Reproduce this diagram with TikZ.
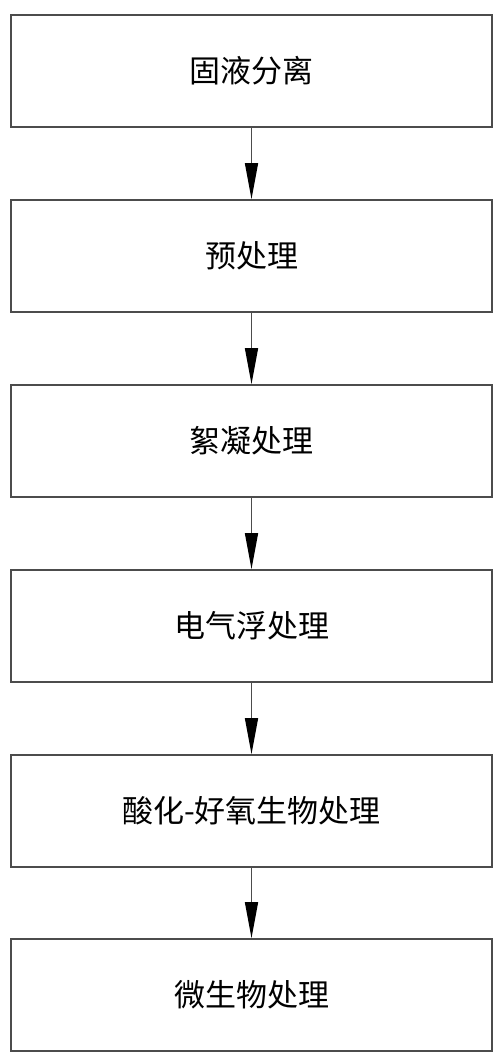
\documentclass[tikz,border=0pt]{standalone}
\usepackage{fontspec}
\setmainfont{Noto Sans CJK SC}
\usetikzlibrary{arrows.meta}
\begin{document}
\begin{tikzpicture}[x=1pt,y=-1pt,
    stepbox/.style={draw=black!70, line width=1.6pt, minimum width=481pt, minimum height=112pt, inner sep=0pt, font=\fontsize{31}{34}\selectfont},
    flow/.style={draw=black!70, line width=1.4pt, -{Triangle[length=36pt,width=13pt,color=black]}}]
    \useasboundingbox (0,0) rectangle (500,1061);

    % 流程框
    \node[stepbox] (gyfl) at (251.5,71) {固液分离};
    \node[stepbox] (ycl) at (251.5,256) {预处理};
    \node[stepbox] (xncl) at (251.5,441) {絮凝处理};
    \node[stepbox] (dqf) at (251.5,626) {电气浮处理};
    \node[stepbox] (shyy) at (251.5,811) {酸化-好氧生物处理};
    \node[stepbox] (wsw) at (251.5,995) {微生物处理};

    % 箭头
    \draw[flow] (gyfl) -- (ycl);
    \draw[flow] (ycl) -- (xncl);
    \draw[flow] (xncl) -- (dqf);
    \draw[flow] (dqf) -- (shyy);
    \draw[flow] (shyy) -- (wsw);
\end{tikzpicture}
\end{document}
